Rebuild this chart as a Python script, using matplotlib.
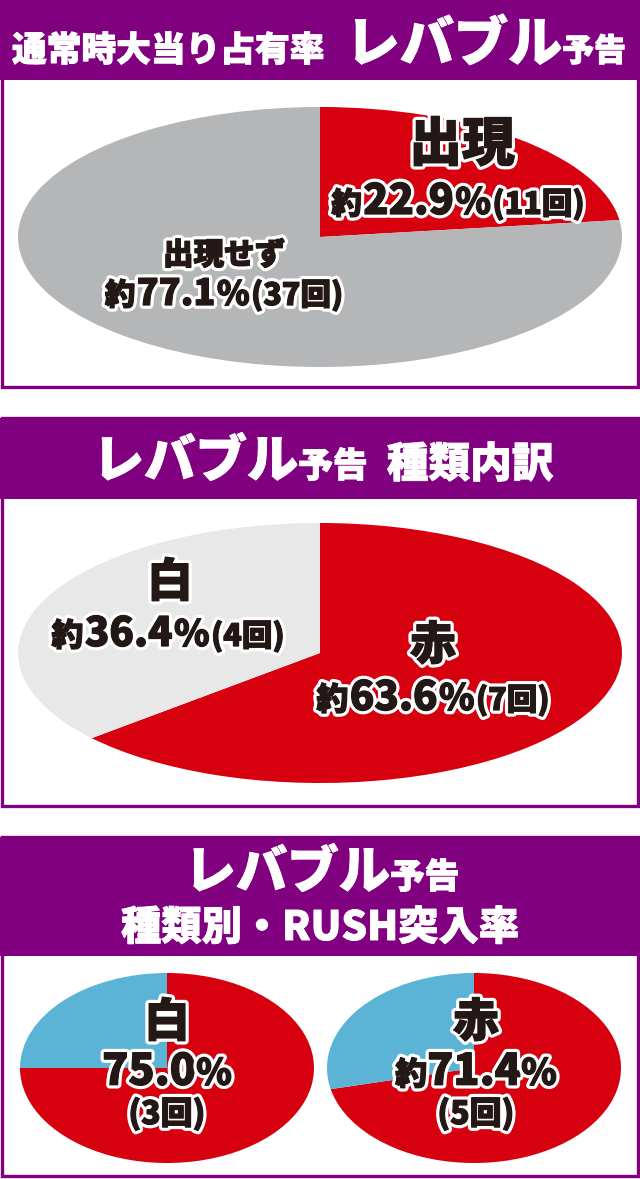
import matplotlib
matplotlib.use('Agg')
import matplotlib.pyplot as plt
from matplotlib.patches import Rectangle
from matplotlib.offsetbox import TextArea, HPacker, AnnotationBbox
import matplotlib.patheffects as pe

plt.rcParams['font.family'] = ['Noto Sans CJK JP', 'DejaVu Sans']

PURPLE = '#800080'
RED = '#D7000F'
GRAY = '#B5B6B8'
LIGHT = '#E8E8E8'
BLUE = '#5BB3D5'
INK = '#231815'
WEIGHT = 'black'

# ---- data ----
p1_labels = ['出現', '出現せず']
p1_counts = [11, 37]
p1_pcts = ['22.9', '77.1']

p2_labels = ['赤', '白']
p2_counts = [7, 4]
p2_pcts = ['63.6', '36.4']

rush_types = ['白', '赤']
rush_hit = [3, 5]
rush_miss = [1, 2]
rush_pcts = ['75.0', '71.4']
rush_prefix = ['', '約']

title1 = ['通常時大当り占有率', 'レバブル', '予告']
title2 = ['レバブル', '予告', '種類内訳']
title3 = ['レバブル', '予告', '種類別・RUSH突入率']

W, H = 640, 1179
fig = plt.figure(figsize=(6.4, 11.79), dpi=100)
bg = fig.add_axes([0, 0, 1, 1])
bg.set_xlim(0, W)
bg.set_ylim(H, 0)
bg.axis('off')

panels = [(0, 80, 389), (418, 499, 808), (837, 956, 1178)]
for top, hb, bot in panels:
    bg.add_patch(Rectangle((1.6, top), W - 3.2, bot - top - 1.6, facecolor='white',
                           edgecolor=PURPLE, linewidth=2.4))
    bg.add_patch(Rectangle((0, top), W, hb - top, facecolor=PURPLE, edgecolor='none'))


def pie_axes(x0, x1, y0, y1, vals, cols):
    ax = fig.add_axes([x0 / W, 1 - y1 / H, (x1 - x0) / W, (y1 - y0) / H])
    ax.pie(vals, colors=cols, startangle=90, counterclock=False, radius=1,
           wedgeprops=dict(linewidth=0))
    ax.set_aspect('auto')
    ax.set_xlim(-1, 1)
    ax.set_ylim(-1, 1)
    ax.axis('off')
    return ax


pie_axes(18, 622, 107, 367, p1_counts, [RED, GRAY])
pie_axes(18, 622, 523, 783, p2_counts, [RED, LIGHT])
pie_axes(20, 314, 973, 1163, [rush_hit[0], rush_miss[0]], [RED, BLUE])
pie_axes(327, 621, 973, 1163, [rush_hit[1], rush_miss[1]], [RED, BLUE])

ov = fig.add_axes([0, 0, 1, 1])
ov.set_xlim(0, W)
ov.set_ylim(H, 0)
ov.axis('off')
ov.patch.set_alpha(0)


def label(x, y, parts, outline=True, color=INK, sep=0, ha=0.5):
    children = []
    for txt, size in parts:
        props = dict(fontsize=size, fontweight=WEIGHT, color=color)
        if outline:
            props['path_effects'] = [pe.withStroke(linewidth=5.5, foreground='white'),
                                     pe.Stroke(linewidth=0.9, foreground=color),
                                     pe.Normal()]
        else:
            props['path_effects'] = [pe.Stroke(linewidth=0.7, foreground=color),
                                     pe.Normal()]
        children.append(TextArea(txt, textprops=props))
    box = HPacker(children=children, align='baseline', pad=0, sep=sep)
    ab = AnnotationBbox(box, (x, y), xycoords='data', frameon=False,
                        box_alignment=(ha, 0.5), pad=0)
    ov.add_artist(ab)


# headers
label(12, 45, [(title1[0], 25), ('\u3000', 15), (title1[1], 39), (title1[2], 23)],
      outline=False, color='white', sep=0, ha=0)
label(323, 462, [(title2[0], 37), (title2[1], 25), ('  ' + title2[2], 30)],
      outline=False, color='white')
label(322, 873, [(title3[0], 37), (title3[1], 25)], outline=False, color='white')
label(320, 928, [(title3[2], 29)], outline=False, color='white')

# panel 1 labels
label(462, 145, [(p1_labels[0], 38)])
label(458, 202, [('約', 22), (p1_pcts[0], 30), ('%', 26), (f'({p1_counts[0]}回)', 22)], sep=1)
label(224, 255, [(p1_labels[1], 22)])
label(224, 294, [('約', 22), (p1_pcts[1], 26), ('%', 24), (f'({p1_counts[1]}回)', 22)], sep=1)

# panel 2 labels
label(170, 583, [(p2_labels[1], 33)])
label(168, 634, [('約', 23), (p2_pcts[1], 29), ('%', 26), (f'({p2_counts[1]}回)', 22)], sep=1)
label(433, 646, [(p2_labels[0], 33)])
label(433, 698, [('約', 23), (p2_pcts[0], 29), ('%', 26), (f'({p2_counts[0]}回)', 22)], sep=1)

# panel 3 labels
for cx, t, pfx, pct, n in zip([167, 476], rush_types, rush_prefix, rush_pcts, rush_hit):
    label(cx, 1023, [(t, 33)])
    parts = ([(pfx, 23)] if pfx else []) + [(pct, 31), ('%', 26)]
    label(cx, 1072, parts)
    label(cx, 1114, [(f'({n}回)', 23)])

fig.savefig('out.png', dpi=100)
